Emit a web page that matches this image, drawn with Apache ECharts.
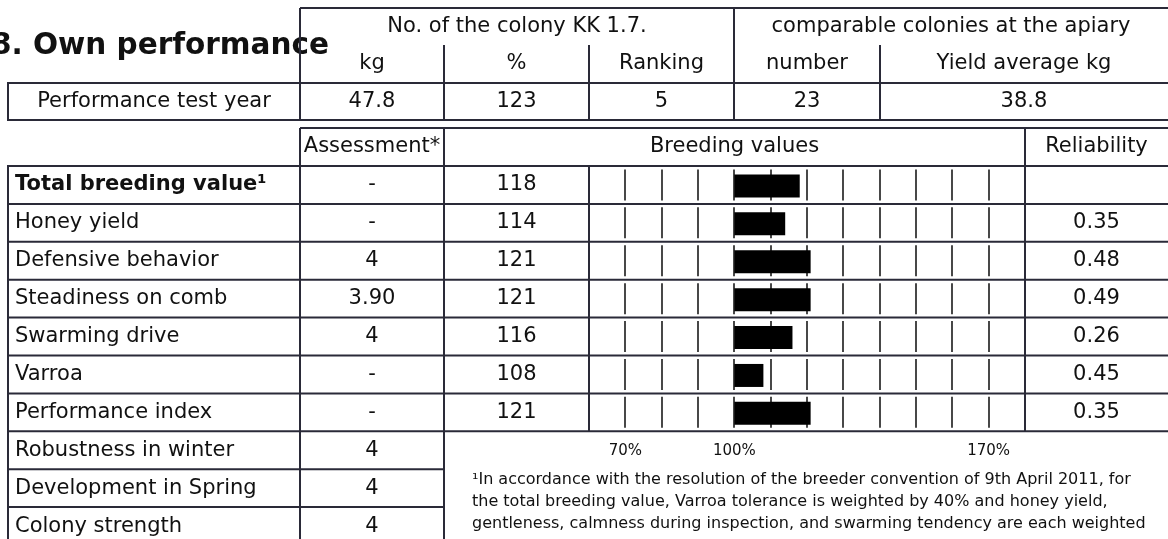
<!DOCTYPE html>
<html>
<head>
<meta charset="utf-8">
<script src="https://cdn.jsdelivr.net/npm/echarts@6.0.0/dist/echarts.min.js"></script>
<style>
html, body { margin: 0; padding: 0; background: #fff; }
#chart { width: 1168px; height: 539px; }
</style>
</head>
<body>
<div id="chart"></div>
<script>
// data
var titleText = '8. Own performance';
var colonyHeader = ['No. of the colony KK 1.7.', 'comparable colonies at the apiary'];
var colonySub = ['kg', '%', 'Ranking', 'number', 'Yield average kg'];
var testYearLabel = 'Performance test year';
var testYear = ['47.8', '123', '5', '23', '38.8'];

var tableHeader = ['Assessment*', 'Breeding values', 'Reliability'];
var traits = ['Total breeding value\u00b9', 'Honey yield', 'Defensive behavior', 'Steadiness on comb', 'Swarming drive', 'Varroa', 'Performance index'];
var assessment = ['-', '-', '4', '3.90', '4', '-', '-'];
var breedingValues = [118, 114, 121, 121, 116, 108, 121];
var reliability = ['', '0.35', '0.48', '0.49', '0.26', '0.45', '0.35'];
var extraTraits = ['Robustness in winter', 'Development in Spring', 'Colony strength'];
var extraAssessment = ['4', '4', '4'];

var baseValue = 100;
var gridTicks = [70, 80, 90, 100, 110, 120, 130, 140, 150, 160, 170];
var tickLabels = [70, 100, 170];
var footnote = [
    '\u00b9In accordance with the resolution of the breeder convention of 9th April 2011, for',
    'the total breeding value, Varroa tolerance is weighted by 40% and honey yield,',
    'gentleness, calmness during inspection, and swarming tendency are each weighted'
];

var FONT = '"DejaVu Sans", Verdana, sans-serif';
var lineColor = '#2a2a38';
var textColor = '#111';

// layout
var L = 8, C1 = 300, C2 = 444, C3 = 589, C4 = 734, C5 = 880, C6 = 1025, R = 1168;
var rowTop = 166, rowH = 37.9;

function hLine(x1, x2, y) {
    return { type: 'line', silent: true, shape: { x1: x1, y1: y, x2: x2, y2: y }, style: { stroke: lineColor, lineWidth: 2 } };
}
function vLine(x, y1, y2) {
    return { type: 'line', silent: true, shape: { x1: x, y1: y1, x2: x, y2: y2 }, style: { stroke: lineColor, lineWidth: 2 } };
}
function txt(s, x, y, align, font) {
    return {
        type: 'text', silent: true, x: x, y: y,
        style: { text: s, font: font || ('21px ' + FONT), fill: textColor, align: align || 'center', verticalAlign: 'middle' }
    };
}

var g = [];
// title (left edge runs slightly off the page, as in the source)
g.push(txt(titleText, 329, 46, 'right', 'bold 29.5px ' + FONT));

// upper table
g.push(hLine(C1, R, 8));
g.push(vLine(C1, 8, 120), vLine(C4, 8, 120));
g.push(vLine(C2, 45, 120), vLine(C3, 45, 120), vLine(C5, 45, 120));
g.push(hLine(L - 1, R, 83), hLine(L - 1, R, 120), vLine(L, 83, 120));
g.push(txt(colonyHeader[0], (C1 + C4) / 2, 27));
g.push(txt(colonyHeader[1], (C4 + R) / 2, 27));
var subCenters = [(C1 + C2) / 2, (C2 + C3) / 2, (C3 + C4) / 2, (C4 + C5) / 2, (C5 + R) / 2];
colonySub.forEach(function (s, i) { g.push(txt(s, subCenters[i], 64)); });
g.push(txt(testYearLabel, (L + C1) / 2, 102));
testYear.forEach(function (s, i) { g.push(txt(s, subCenters[i], 102)); });

// lower table header
g.push(hLine(C1, R, 128));
g.push(vLine(C1, 128, rowTop), vLine(C2, 128, rowTop), vLine(C6, 128, rowTop));
g.push(txt(tableHeader[0], (C1 + C2) / 2, 147));
g.push(txt(tableHeader[1], (C2 + C6) / 2, 147));
g.push(txt(tableHeader[2], (C6 + R) / 2, 147));

var nRows = traits.length;
var yEnd = rowTop + nRows * rowH;
for (var k = 0; k <= nRows; k++) g.push(hLine(L - 1, R, rowTop + k * rowH));
[L, C1, C2, C3, C6].forEach(function (x) { g.push(vLine(x, rowTop, yEnd)); });
traits.forEach(function (s, i) {
    var yc = rowTop + (i + 0.5) * rowH;
    g.push(txt(s, 15, yc, 'left', (i === 0 ? 'bold ' : '') + '21px ' + FONT));
    g.push(txt(assessment[i], (C1 + C2) / 2, yc));
    g.push(txt(String(breedingValues[i]), (C2 + C3) / 2, yc));
    if (reliability[i]) g.push(txt(reliability[i], (C6 + R) / 2, yc));
});
// extra rows
[L, C1, C2].forEach(function (x) { g.push(vLine(x, yEnd, 539)); });
extraTraits.forEach(function (s, i) {
    var yc = yEnd + (i + 0.5) * rowH;
    if (i > 0) g.push(hLine(L - 1, C2, yEnd + i * rowH));
    g.push(txt(s, 15, yc, 'left'));
    g.push(txt(extraAssessment[i], (C1 + C2) / 2, yc));
});
// footnote
footnote.forEach(function (s, i) { g.push(txt(s, 472, 480 + i * 21.7, 'left', '16px ' + FONT)); });

var chart = echarts.init(document.getElementById('chart'));
var option = {
    backgroundColor: '#fff',
    animation: false,
    grid: { left: C3, right: R - C6, top: rowTop, height: nRows * rowH, containLabel: false },
    xAxis: {
        type: 'value', min: 60, max: 180, interval: 10,
        axisLine: { show: false }, axisTick: { show: false }, splitLine: { show: false },
        axisLabel: {
            margin: 12, fontSize: 15, fontFamily: FONT, color: textColor, hideOverlap: false,
            formatter: function (v) { return tickLabels.indexOf(v) >= 0 ? v + '%' : ''; }
        }
    },
    yAxis: { type: 'category', data: traits, inverse: true, show: false },
    series: [{
        type: 'custom',
        data: breedingValues.map(function (v, i) { return [v, i]; }),
        encode: { x: 0, y: 1 },
        renderItem: function (params, api) {
            var idx = api.value(1);
            var base = api.coord([baseValue, idx]);
            var end = api.coord([api.value(0), idx]);
            var children = [];
            gridTicks.forEach(function (t) {
                var p = api.coord([t, idx]);
                var x = Math.round(p[0]);
                children.push({ type: 'line', shape: { x1: x, y1: p[1] - 15.5, x2: x, y2: p[1] + 15.5 }, style: { stroke: '#1a1a1a', lineWidth: 1.6 } });
            });
            children.push({ type: 'rect', shape: { x: base[0], y: base[1] - 10.5, width: end[0] - base[0], height: 23 }, style: { fill: '#000' } });
            return { type: 'group', children: children };
        }
    }],
    graphic: { elements: g }
};
chart.setOption(option);
</script>
</body>
</html>
